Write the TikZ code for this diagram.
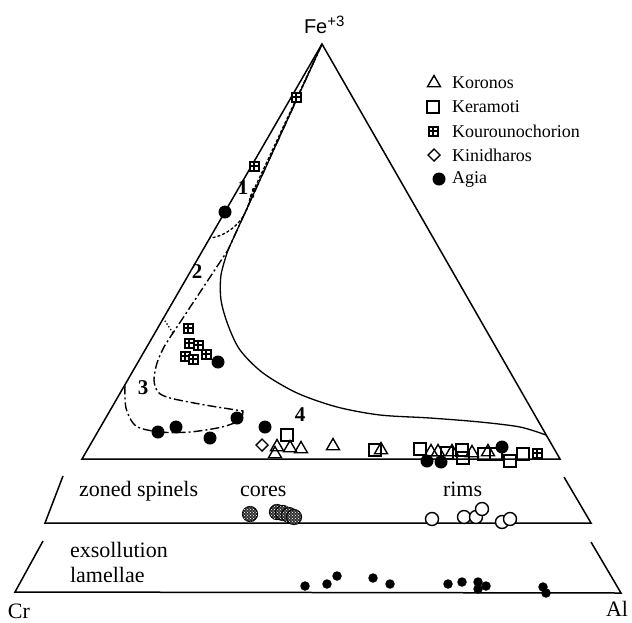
\documentclass[tikz,border=0pt]{standalone}
\usepackage{fontspec}
\setmainfont{Liberation Serif}
\newfontfamily\apexfont{Liberation Sans}
\usepackage{tikz}
\usetikzlibrary{shapes.geometric, patterns}
\tikzset{
  every picture/.style={font={\fontsize{22}{25}\selectfont}, >=stealth},
  every node/.style={inner sep=0pt, outer sep=0pt}}

\begin{document}
\begin{tikzpicture}[x=1pt, y=-1pt,
    side/.style={line width=1.5pt},
    koronos/.style={draw, regular polygon, regular polygon sides=3,
      minimum size=15pt, line width=1.4pt},
    keramoti/.style={draw, minimum size=12pt, line width=1.4pt},
    kour/.style={draw, fill=white, minimum size=9pt, line width=2pt,
      path picture={\draw[line width=2pt]
        (path picture bounding box.north) -- (path picture bounding box.south)
        (path picture bounding box.west) -- (path picture bounding box.east);}},
    kinid/.style={draw, diamond, minimum size=12pt, line width=1.4pt},
    agia/.style={circle, fill, minimum size=13pt},
    tiny/.style={circle, fill, minimum size=4.5pt},
    core/.style={circle, draw, fill=black!80, minimum size=15pt, line width=1.2pt,
      postaction={pattern=crosshatch dots, pattern color=white}},
    rim/.style={circle, draw, fill=white, minimum size=13pt, line width=1.4pt,
      path picture={\fill (path picture bounding box.center) circle (2pt);}},
    lamella/.style={circle, fill, minimum size=9.5pt},
    field/.style={font={\fontsize{21}{21}\selectfont\bfseries}},
    key/.style={font={\fontsize{18}{20}\selectfont}, anchor=west}]

  \useasboundingbox (0,0) rectangle (632,622);

  \coordinate (apex) at (322,44);
  \coordinate (cr) at (82,459);
  \coordinate (al) at (560,459);
  \draw[side] (apex) -- (al) -- (cr) -- cycle;
  \node[anchor=base west] (fe) at (304,33)
    {\apexfont\fontsize{20}{20}\selectfont Fe\raisebox{7pt}{\fontsize{15}{15}\selectfont +3}};

  \draw[line width=1.3pt] (apex) -- plot[smooth] coordinates {(228,250) (221,275)
    (221,300) (228,325) (240,350) (263,373) (297,393) (337,407) (380,415)
    (430,418) (480,422) (520,427) (546,435)};
  \draw[line width=1.4pt, dash pattern=on 9pt off 3pt on 2pt off 3pt]
    (apex) -- (228,250) -- plot[smooth] coordinates {(173,333) (164,347)
    (157,363) (154,380) (158,392) (170,398) (205,405) (243,411)}
    -- plot[smooth] coordinates {(243,411) (240,420) (222,427) (190,432)
    (160,432) (136,426) (126,408) (125,385)};
  \draw[line width=1.3pt, dash pattern=on 3pt off 2pt]
    (apex) -- (250,198) .. controls (247,220) and (228,236) .. (210,238);
  \draw[line width=1.3pt, dotted] (163,318) -- (173,333);

  \node[field] (f1) at (243,188) {1};
  \node[field] (f2) at (197,272) {2};
  \node[field] (f3) at (143,388) {3};
  \node[field] (f4) at (300,415) {4};

  \draw[side] (63,476) -- (45,523) -- (591,523) -- (564,477);
  \draw[side] (43,541) -- (15,592) -- (621,593) -- (591,542);

  \foreach \x/\y in {296/97, 254/166, 188/328, 189/343, 198/345, 185/356,
      193/359, 206/354, 537/453}
    \node[kour] (kour-\x-\y) at (\x,\y) {};
  \foreach \x/\y in {287/435, 375/450, 420/449, 447/453, 462/450, 463/458,
      484/454, 496/454, 510/461, 523/454}
    \node[keramoti] (ker-\x-\y) at (\x,\y) {};
  \foreach \x/\y in {277/447, 290/448, 301/449, 275/454, 333/446, 381/450,
      431/452, 438/452, 452/452, 472/453, 488/452}
    \node[koronos] (kor-\x-\y) at (\x,\y) {};
  \node[kinid] (kin-1) at (262,445) {};
  \foreach \x/\y in {225/212, 218/362, 158/432, 176/427, 210/438, 237/418,
      265/427, 427/461, 441/462, 502/447}
    \node[agia] (agia-\x-\y) at (\x,\y) {};
  \node[tiny] (dot-1) at (254,190) {};
  \node[tiny] (dot-2) at (252,196) {};

  \node[anchor=base west] (zoned) at (79,496) {zoned spinels};
  \node[anchor=base west] (cores) at (240,496) {cores};
  \node[anchor=base west] (rims) at (443,496) {rims};
  \node[anchor=base west] (exsol) at (70,557) {exsollution};
  \node[anchor=base west] (lamel) at (70,582) {lamellae};
  \node[anchor=base west] (crlab) at (8,618) {Cr};
  \node[anchor=base west] (allab) at (606,616) {Al};

  \foreach \x/\y in {250/514, 277/512, 283/513, 289/515, 294/517}
    \node[core] (core-\x-\y) at (\x,\y) {};
  \foreach \x/\y in {432/519, 464/517, 476/517, 482/509, 502/522, 510/519}
    \node[rim] (rim-\x-\y) at (\x,\y) {};
  \foreach \x/\y in {305/586, 327/584, 337/576, 373/578, 390/584, 448/584,
      462/582, 478/582, 486/586, 478/589, 543/587, 546/593}
    \node[lamella] (lam-\x-\y) at (\x,\y) {};

  \node[koronos] (kkor) at (434,83) {};
  \node[key] (tkor) at (452,83) {Koronos};
  \node[keramoti] (kker) at (433,107) {};
  \node[key] (tker) at (452,107) {Keramoti};
  \node[kour] (kkou) at (433,131) {};
  \node[key] (tkou) at (452,131) {Kourounochorion};
  \node[kinid] (kkin) at (434,155) {};
  \node[key] (tkin) at (452,155) {Kinidharos};
  \node[agia] (kagi) at (439,179) {};
  \node[key] (tagi) at (452,179) {Agia};
\end{tikzpicture}
\end{document}
